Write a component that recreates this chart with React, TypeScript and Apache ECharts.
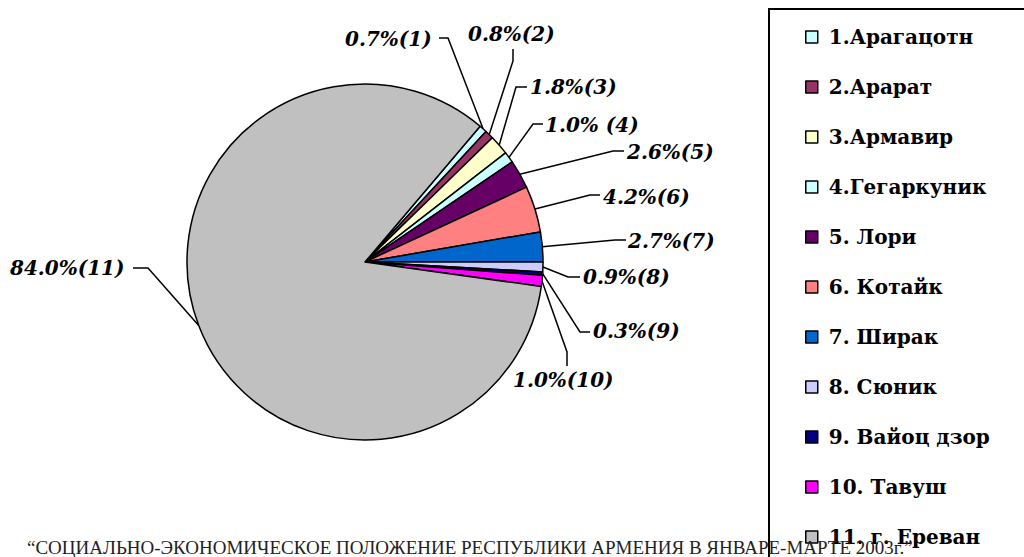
import React, { useEffect, useRef } from "react";
import * as echarts from "echarts";

const regionNames = [
  "1.Арагацотн",
  "2.Арарат",
  "3.Армавир",
  "4.Гегаркуник",
  "5. Лори",
  "6. Котайк",
  "7. Ширак",
  "8. Сюник",
  "9. Вайоц дзор",
  "10. Тавуш",
  "11. г. Ереван",
];
const shares = [0.7, 0.8, 1.8, 1.0, 2.6, 4.2, 2.7, 0.9, 0.3, 1.0, 84.0];
const shareLabels = [
  "0.7%(1)",
  "0.8%(2)",
  "1.8%(3)",
  "1.0% (4)",
  "2.6%(5)",
  "4.2%(6)",
  "2.7%(7)",
  "0.9%(8)",
  "0.3%(9)",
  "1.0%(10)",
  "84.0%(11)",
];
const sliceColors = [
  "#CCFFFF",
  "#993366",
  "#FFFFCC",
  "#CCFFFF",
  "#660066",
  "#FF8080",
  "#0066CC",
  "#CCCCFF",
  "#000080",
  "#FF00FF",
  "#C0C0C0",
];
const footnote =
  "“СОЦИАЛЬНО-ЭКОНОМИЧЕСКОЕ ПОЛОЖЕНИЕ РЕСПУБЛИКИ АРМЕНИЯ В ЯНВАРЕ-МАРТЕ 2003г.”";

// label placement: text left x, text middle y, elbow x, elbow y, end x, end y
const labelPlacement = [
  [345, 39, 448, 38, 439, 38],
  [468, 34, 513, 61, 513, 49],
  [530, 87, 516, 87, 527, 87],
  [545, 125, 533, 124, 543, 124],
  [627, 152, 613, 151, 624, 151],
  [603, 197, 590, 195, 600, 195],
  [628, 241, 615, 240, 626, 240],
  [583, 277, 568, 277, 580, 277],
  [593, 331, 580, 332, 590, 332],
  [513, 380, 567, 352, 567, 366],
  [10, 268, 148, 268, 133, 268],
];

export default function App() {
  const ref = useRef<HTMLDivElement>(null);
  useEffect(() => {
    if (!ref.current) return;
    const chart = echarts.init(ref.current, undefined, { renderer: "svg" });
    chart.setOption({
      animation: false,
      backgroundColor: "#ffffff",
      legend: {
        orient: "vertical",
        left: 805,
        top: 27,
        itemWidth: 12,
        itemHeight: 12,
        itemGap: 30,
        icon: "rect",
        selectedMode: false,
        padding: 0,
        itemStyle: { borderColor: "#000", borderWidth: 1.5 },
        textStyle: {
          fontFamily: "DejaVu Serif",
          fontWeight: "bold",
          fontSize: 20,
          color: "#000",
          lineHeight: 20,
          padding: [0, 0, 0, 6],
        },
        data: regionNames,
      },
      graphic: [
        {
          type: "rect",
          z: 0,
          shape: { x: 769, y: 9, width: 270, height: 570 },
          style: { fill: "none", stroke: "#000", lineWidth: 2 },
        },
        {
          type: "text",
          z: 100,
          x: 27,
          y: 547,
          style: {
            text: footnote,
            font: '19px "Liberation Serif"',
            fill: "#222",
            textVerticalAlign: "middle",
          },
        },
      ],
      series: [
        {
          type: "pie",
          center: [365, 262],
          radius: 178,
          startAngle: 49.7,
          clockwise: true,
          avoidLabelOverlap: false,
          itemStyle: { borderColor: "#000", borderWidth: 1.5 },
          label: {
            show: true,
            position: "outside",
            formatter: (p: any) => shareLabels[p.dataIndex],
            fontFamily: "DejaVu Serif",
            fontWeight: "bold",
            fontStyle: "italic",
            fontSize: 20,
            color: "#000",
          },
          labelLine: {
            show: true,
            length: 10,
            length2: 10,
            smooth: false,
            lineStyle: { color: "#000", width: 1.5 },
          },
          labelLayout: (params: any) => {
            const p = labelPlacement[params.dataIndex];
            const pts = params.labelLinePoints;
            const res: any = {
              x: p[0],
              y: p[1],
              align: "left",
              verticalAlign: "middle",
            };
            if (pts && pts[0]) {
              res.labelLinePoints = [
                [pts[0][0], pts[0][1]],
                [p[2], p[3]],
                [p[4], p[5]],
              ];
            }
            return res;
          },
          data: regionNames.map((n, i) => ({
            name: n,
            value: shares[i],
            itemStyle: { color: sliceColors[i] },
          })),
        },
      ],
    });
    return () => chart.dispose();
  }, []);
  return (
    <div
      ref={ref}
      style={{ position: "absolute", left: 0, top: 0, width: 1024, height: 557 }}
    />
  );
}
